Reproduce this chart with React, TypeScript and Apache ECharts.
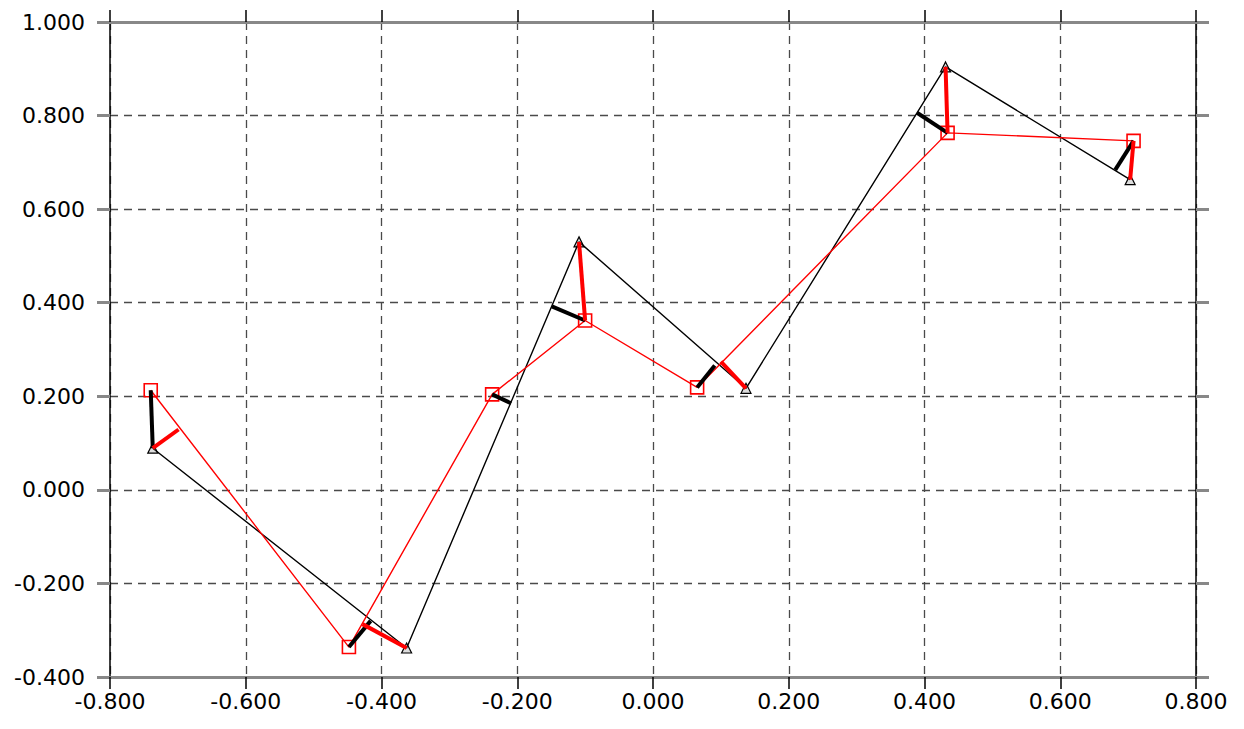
import React, { useEffect, useRef } from "react";
import * as echarts from "echarts";

// Configuration A (black, triangles)
const blackX = [-0.737, -0.363, -0.109, 0.137, 0.431, 0.703];
const blackY = [0.089, -0.338, 0.530, 0.217, 0.904, 0.663];
// Configuration B (red, squares)
const redX = [-0.740, -0.448, -0.237, -0.100, 0.065, 0.434, 0.708];
const redY = [0.213, -0.336, 0.204, 0.362, 0.219, 0.763, 0.746];

// Thick residual links: [fromX, fromY, toX, toY]
const blackLinks = [
  [-0.740, 0.213, -0.737, 0.089],
  [-0.448, -0.336, -0.416, -0.280],
  [-0.237, 0.204, -0.209, 0.185],
  [-0.100, 0.362, -0.149, 0.392],
  [0.065, 0.219, 0.091, 0.266],
  [0.434, 0.763, 0.389, 0.806],
  [0.708, 0.746, 0.681, 0.684],
];
const redLinks = [
  [-0.737, 0.089, -0.699, 0.129],
  [-0.363, -0.338, -0.428, -0.287],
  [-0.109, 0.530, -0.100, 0.362],
  [0.137, 0.217, 0.100, 0.274],
  [0.431, 0.904, 0.434, 0.763],
  [0.703, 0.663, 0.708, 0.746],
];

const xMin = -0.8, xMax = 0.8, xStep = 0.2;
const yMin = -0.4, yMax = 1.0, yStep = 0.2;

const FONT = "DejaVu Sans";

export default function App() {
  const ref = useRef<HTMLDivElement>(null);
  useEffect(() => {
    if (!ref.current) return;
    const chart = echarts.init(ref.current, null, { renderer: "svg" });
    const fmt = (v: number) => v.toFixed(3);
    const split = { show: true, lineStyle: { color: "#4a4a4a", type: [8, 6] as any, width: 1.3 } };
    const xCommon = {
      type: "value" as const,
      min: xMin, max: xMax, interval: xStep,
      axisLine: { show: true, onZero: false, lineStyle: { color: "#888", width: 3 } },
      axisTick: { show: true, inside: false, length: 12, lineStyle: { color: "#000", width: 1.5 } },
    };
    const yCommon = {
      type: "value" as const,
      min: yMin, max: yMax, interval: yStep,
      axisLine: { show: true, onZero: false, lineStyle: { color: "#000", width: 1.5 } },
      axisTick: { show: true, inside: false, length: 13, lineStyle: { color: "#888", width: 3 } },
    };
    const label = { color: "#000", fontSize: 22, fontFamily: FONT };
    chart.setOption({
      animation: false,
      backgroundColor: "#fff",
      grid: { left: 110, right: 48, top: 22, bottom: 52, containLabel: false },
      xAxis: [
        {
          ...xCommon, position: "bottom",
          axisLabel: { show: true, formatter: fmt, margin: 13, ...label },
          splitLine: split,
        },
        { ...xCommon, position: "top", axisLabel: { show: false }, splitLine: { show: false } },
      ],
      yAxis: [
        {
          ...yCommon, position: "left",
          axisLabel: { show: true, formatter: fmt, margin: 25, ...label },
          splitLine: split,
        },
        { ...yCommon, position: "right", axisLabel: { show: false }, splitLine: { show: false } },
      ],
      series: [
        {
          type: "line",
          data: blackX.map((x, i) => [x, blackY[i]]),
          lineStyle: { color: "#000", width: 1.4 },
          symbol: "triangle", symbolSize: 10,
          itemStyle: { color: "rgba(120,120,120,0.25)", borderColor: "#000", borderWidth: 1.2 },
          z: 2,
        },
        {
          type: "line",
          data: redX.map((x, i) => [x, redY[i]]),
          lineStyle: { color: "#f00", width: 1.4 },
          symbol: "rect", symbolSize: 13,
          itemStyle: { color: "rgba(0,0,0,0)", borderColor: "#f00", borderWidth: 1.6 },
          z: 3,
        },
        {
          type: "lines",
          coordinateSystem: "cartesian2d",
          data: blackLinks.map((l) => ({ coords: [[l[0], l[1]], [l[2], l[3]]] })),
          lineStyle: { color: "#000", width: 4, opacity: 1 },
          z: 4,
        },
        {
          type: "lines",
          coordinateSystem: "cartesian2d",
          data: redLinks.map((l) => ({ coords: [[l[0], l[1]], [l[2], l[3]]] })),
          lineStyle: { color: "#f00", width: 4, opacity: 1 },
          z: 5,
        },
      ],
    });
    return () => chart.dispose();
  }, []);
  return <div ref={ref} style={{ width: 1244, height: 729, margin: -8 }} />;
}
